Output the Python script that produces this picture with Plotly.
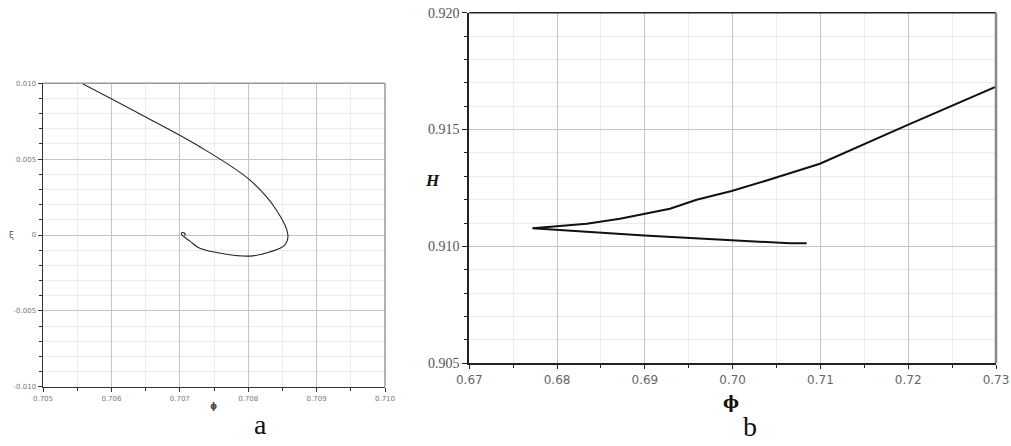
import plotly.graph_objects as go

# Panel a: phase trajectory (phi, xi)
phi_a = [0.705565, 0.706416, 0.707292, 0.708022, 0.708412, 0.708581, 0.708533,
         0.708314, 0.708022, 0.707657, 0.707292, 0.707146, 0.707058, 0.707022,
         0.707036, 0.707066, 0.707080, 0.707066]
xi_a = [0.0100, 0.00798, 0.00582, 0.00363, 0.00165, 0.0, -0.00066,
        -0.00112, -0.00139, -0.00125, -0.00088, -0.00040, -0.00010, 0.00007,
        0.00016, 0.00013, 0.00005, -0.00002]

# Panel b: H vs phi, two branches
phi_b_upper = [0.67722, 0.67995, 0.68337, 0.68716, 0.68993, 0.69286, 0.69590,
               0.69989, 0.70387, 0.70994, 0.71982, 0.73000]
H_b_upper = [0.91078, 0.91086, 0.91097, 0.91118, 0.91140, 0.91161, 0.91200,
             0.91237, 0.91282, 0.91354, 0.91518, 0.91684]
phi_b_lower = [0.67722, 0.67995, 0.68993, 0.69989, 0.70652, 0.70843]
H_b_lower = [0.91078, 0.91071, 0.91047, 0.91026, 0.91014, 0.91014]

a_xticks = [0.705, 0.706, 0.707, 0.708, 0.709, 0.710]
a_yticks = [-0.010, -0.005, 0.0, 0.005, 0.010]
a_yticktext = ["-0.010", "-0.005", "0", "0.005", "0.010"]
b_xticks = [0.67, 0.68, 0.69, 0.70, 0.71, 0.72, 0.73]
b_yticks = [0.905, 0.910, 0.915, 0.920]

W, H = 1011, 446


def px(X):
    return X / W


def py(Y):
    return 1 - Y / H


fig = go.Figure()
fig.add_trace(go.Scatter(x=phi_a, y=xi_a, mode="lines", xaxis="x", yaxis="y",
                         line=dict(color="#222222", width=1.1, shape="spline", smoothing=1.0),
                         showlegend=False, hoverinfo="skip"))
fig.add_trace(go.Scatter(x=phi_b_upper, y=H_b_upper, mode="lines", xaxis="x2", yaxis="y2",
                         line=dict(color="#111111", width=2),
                         showlegend=False, hoverinfo="skip"))
fig.add_trace(go.Scatter(x=phi_b_lower, y=H_b_lower, mode="lines", xaxis="x2", yaxis="y2",
                         line=dict(color="#111111", width=2),
                         showlegend=False, hoverinfo="skip"))

grid_major = "#c4c4c4"
grid_minor = "#ececec"


def ann(text, X, Y, family, size, color):
    return dict(text=text, x=px(X), y=py(Y), xref="paper", yref="paper",
                xanchor="center", yanchor="middle", showarrow=False,
                font=dict(family=family, size=size, color=color))


fig.update_layout(
    width=W, height=H, autosize=False,
    margin=dict(l=0, r=0, t=0, b=0, autoexpand=False),
    paper_bgcolor="white", plot_bgcolor="white",
    xaxis=dict(domain=[px(43), px(385)], range=[0.705, 0.710], anchor="y", automargin=False,
               tickvals=a_xticks, ticktext=[f"{v:.3f}" for v in a_xticks],
               ticklabeloverflow="allow",
               showgrid=True, gridcolor=grid_major, gridwidth=1, zeroline=False,
               showline=True, linecolor="#333333", linewidth=1.5,
               ticks="outside", ticklen=4, tickcolor="#333333",
               tickfont=dict(family="DejaVu Sans", size=7, color="#777777"),
               minor=dict(dtick=0.0005, tick0=0.705, showgrid=True, gridcolor=grid_minor,
                          ticks="outside", ticklen=3, tickcolor="#333333")),
    yaxis=dict(domain=[py(386.7), py(83.3)], range=[-0.010, 0.010], anchor="x", automargin=False,
               tickvals=a_yticks, ticktext=a_yticktext,
               ticklabeloverflow="allow",
               showgrid=True, gridcolor=grid_major, gridwidth=1, zeroline=False,
               showline=True, linecolor="#333333", linewidth=1.5,
               ticks="outside", ticklen=4, tickcolor="#333333",
               tickfont=dict(family="DejaVu Sans", size=7, color="#777777"),
               minor=dict(dtick=0.001, tick0=0.0, showgrid=True, gridcolor=grid_minor,
                          ticks="outside", ticklen=3, tickcolor="#333333")),
    xaxis2=dict(domain=[px(469.3), px(996)], range=[0.67, 0.73], anchor="y2", automargin=False,
                tickvals=b_xticks, ticktext=[f"{v:.2f}" for v in b_xticks],
                ticklabeloverflow="allow",
                showgrid=True, gridcolor=grid_major, gridwidth=1, zeroline=False,
                showline=True, linecolor="#222222", linewidth=2,
                ticks="outside", ticklen=4, tickcolor="#222222",
                tickfont=dict(family="DejaVu Sans", size=12, color="#666666"),
                minor=dict(dtick=0.005, tick0=0.67, showgrid=True, gridcolor=grid_minor,
                           ticks="outside", ticklen=3, tickcolor="#222222")),
    yaxis2=dict(domain=[py(363.3), py(12.7)], range=[0.905, 0.920], anchor="x2", automargin=False,
                tickvals=b_yticks, ticktext=[f"{v:.3f}" for v in b_yticks],
                ticklabeloverflow="allow",
                showgrid=True, gridcolor=grid_major, gridwidth=1, zeroline=False,
                showline=True, linecolor="#222222", linewidth=2,
                ticks="outside", ticklen=5, tickcolor="#222222",
                tickfont=dict(family="Liberation Serif", size=14, color="#555555"),
                minor=dict(dtick=0.001, tick0=0.905, showgrid=True, gridcolor=grid_minor,
                           ticks="outside", ticklen=3, tickcolor="#222222")),
    shapes=[
        dict(type="line", xref="x domain", yref="y domain", x0=0, x1=1, y0=1, y1=1,
             line=dict(color="#999999", width=1.5)),
        dict(type="line", xref="x domain", yref="y domain", x0=1, x1=1, y0=0, y1=1,
             line=dict(color="#999999", width=1.5)),
        dict(type="line", xref="x2 domain", yref="y2 domain", x0=0, x1=1, y0=1, y1=1,
             line=dict(color="#222222", width=1.5)),
        dict(type="line", xref="x2 domain", yref="y2 domain", x0=1, x1=1, y0=0, y1=1,
             line=dict(color="#888888", width=2.5)),
    ],
    annotations=[
        ann("ξ", 11, 235, "DejaVu Sans", 9, "#555555"),
        ann("<b>ϕ</b>", 213, 406, "DejaVu Sans", 9, "#444444"),
        ann("a", 260, 424, "Liberation Serif", 28, "#111111"),
        ann("<b><i>H</i></b>", 432, 180, "Liberation Serif", 17, "#111111"),
        ann("<b>ϕ</b>", 731, 402, "DejaVu Serif", 17, "#111111"),
        ann("b", 750, 426, "Liberation Serif", 28, "#111111"),
    ],
)

fig.write_html("out.html", config={"displayModeBar": False, "staticPlot": True},
               post_script="document.body.style.margin='0';document.body.style.overflow='hidden';")
